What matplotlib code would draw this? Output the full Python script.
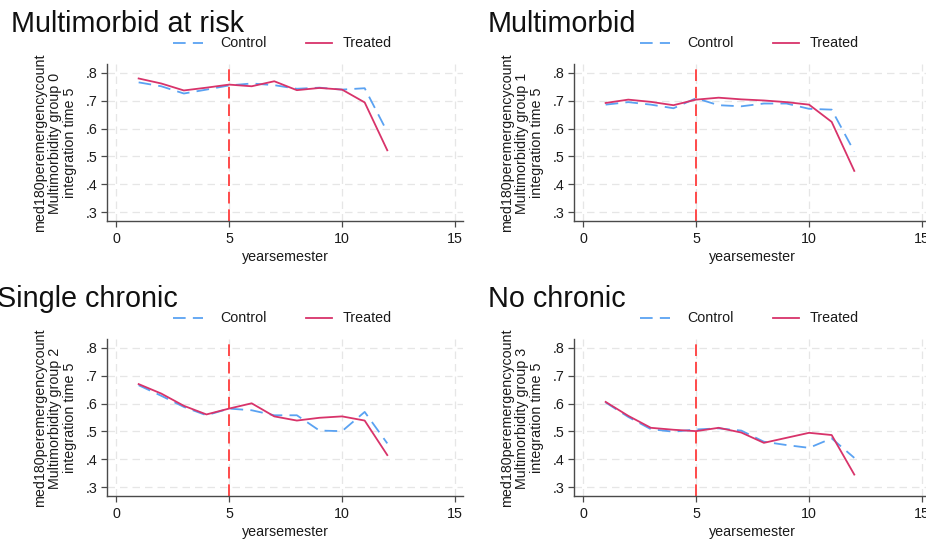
import matplotlib
matplotlib.use("Agg")
import matplotlib.pyplot as plt

plt.rcParams['font.family'] = ['Liberation Sans', 'DejaVu Sans']

# ---- data ----
x_vals = [1, 2, 3, 4, 5, 6, 7, 8, 9, 10, 11, 12]
titles = ["Multimorbid at risk", "Multimorbid", "Single chronic", "No chronic"]
group_ids = [0, 1, 2, 3]

control_g0 = [0.766, 0.752, 0.726, 0.740, 0.755, 0.762, 0.756, 0.743, 0.747, 0.740, 0.745, 0.588]
treated_g0 = [0.780, 0.762, 0.737, 0.747, 0.758, 0.752, 0.770, 0.738, 0.746, 0.740, 0.694, 0.522]

control_g1 = [0.686, 0.695, 0.686, 0.673, 0.709, 0.684, 0.680, 0.690, 0.690, 0.671, 0.668, 0.517]
treated_g1 = [0.692, 0.704, 0.696, 0.684, 0.704, 0.711, 0.705, 0.701, 0.695, 0.686, 0.624, 0.448]

control_g2 = [0.666, 0.628, 0.588, 0.558, 0.582, 0.576, 0.558, 0.558, 0.503, 0.501, 0.570, 0.457]
treated_g2 = [0.670, 0.636, 0.592, 0.561, 0.582, 0.601, 0.554, 0.539, 0.549, 0.554, 0.539, 0.415]

control_g3 = [0.604, 0.552, 0.508, 0.499, 0.507, 0.511, 0.503, 0.463, 0.451, 0.441, 0.475, 0.405]
treated_g3 = [0.606, 0.556, 0.513, 0.506, 0.501, 0.513, 0.496, 0.459, 0.477, 0.495, 0.487, 0.345]

controls = [control_g0, control_g1, control_g2, control_g3]
treateds = [treated_g0, treated_g1, treated_g2, treated_g3]

xticks = [0, 5, 10, 15]
yticks = [0.3, 0.4, 0.5, 0.6, 0.7, 0.8]
ytick_labels = [".3", ".4", ".5", ".6", ".7", ".8"]
integration_time = 5
legend_labels = ["Control", "Treated"]
xlabel = "yearsemester"

# ---- style ----
W, H = 926, 544
C_CONTROL = '#5aa2f2'
C_TREATED = '#d8336a'
C_VLINE = '#ff4a4a'
C_GRID = '#e6e6e6'
C_SPINE = '#4a4a4a'
C_TEXT = '#1a1a1a'
FS_SMALL = 10.3

fig = plt.figure(figsize=(W / 100, H / 100), dpi=100)
fig.patch.set_facecolor('white')

# panel offsets in pixels (left, top of plot area)
offsets = [(0, 0), (467, 0), (0, 275), (467, 275)]
title_pos = [(11, 32), (488, 32), (-3, 307), (488, 307)]

ax_left, ax_top, ax_w, ax_h = 107, 64, 356, 157

for i in range(4):
    dx, dy = offsets[i]
    l = (ax_left + dx) / W
    b = (H - (ax_top + dy + ax_h)) / H
    ax = fig.add_axes([l, b, ax_w / W, ax_h / H])
    ax.set_xlim(-0.4, 15.35)
    ax.set_ylim(0.268, 0.832)
    ax.set_xticks(xticks)
    ax.set_yticks(yticks)
    ax.set_yticklabels(ytick_labels)
    for yv in yticks:
        ax.axhline(yv, color=C_GRID, lw=0.9, ls=(0, (6, 4)), zorder=0)
    for xv in xticks:
        ax.axvline(xv, color=C_GRID, lw=0.9, ls=(0, (6, 4)), zorder=0)
    ax.axvline(integration_time, color=C_VLINE, lw=1.4, ls=(0, (6, 3)), zorder=1)
    ax.plot(x_vals, controls[i], color=C_CONTROL, lw=1.3, ls=(0, (7, 4)), zorder=2)
    ax.plot(x_vals, treateds[i], color=C_TREATED, lw=1.3, zorder=3)
    for s in ['top', 'right']:
        ax.spines[s].set_visible(False)
    for s in ['left', 'bottom']:
        ax.spines[s].set_color(C_SPINE)
        ax.spines[s].set_linewidth(1.0)
    ax.tick_params(axis='both', colors=C_SPINE, labelcolor=C_TEXT, labelsize=FS_SMALL,
                   length=4, width=0.9, pad=3)
    ax.tick_params(axis='x', pad=4)
    ax.set_xlabel(xlabel, fontsize=FS_SMALL, color=C_TEXT, labelpad=3)
    # y label (three lines)
    ylab = "med180peremergencycount\nMultimorbidity group %d\nintegration time %d" % (group_ids[i], integration_time)
    fig.text((55 + dx) / W, 1 - (143 + dy) / H, ylab, rotation=90, ha='center', va='center',
             multialignment='center', fontsize=FS_SMALL, color=C_TEXT, linespacing=1.12)
    # title
    tx, ty = title_pos[i]
    fig.text(tx / W, 1 - ty / H, titles[i], fontsize=20.7, ha='left', va='baseline', color='#111111')
    # legend (manual, above plot)
    ly = 1 - (43 + dy) / H
    fig.add_artist(plt.Line2D([(173 + dx) / W, (203 + dx) / W], [ly, ly], color=C_CONTROL,
                              lw=1.3, ls=(0, (7, 4)), transform=fig.transFigure))
    fig.text((220 + dx) / W, ly, legend_labels[0], fontsize=FS_SMALL, ha='left', va='center', color=C_TEXT)
    fig.add_artist(plt.Line2D([(306 + dx) / W, (332 + dx) / W], [ly, ly], color=C_TREATED,
                              lw=1.3, transform=fig.transFigure))
    fig.text((343 + dx) / W, ly, legend_labels[1], fontsize=FS_SMALL, ha='left', va='center', color=C_TEXT)

fig.savefig("out.png", dpi=100, facecolor='white')
